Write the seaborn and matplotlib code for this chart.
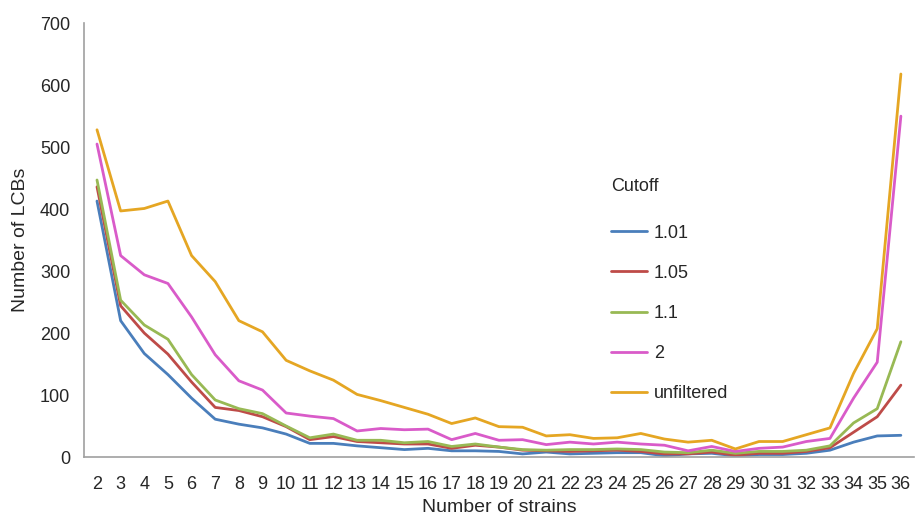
import numpy as np
import pandas as pd
import matplotlib
matplotlib.use("Agg")
import matplotlib.pyplot as plt
import seaborn as sns

strains = list(range(2, 37))
cutoffs = ["1.01", "1.05", "1.1", "2", "unfiltered"]

v_101 = [413, 220, 167, 133, 95, 61, 53, 47, 37, 22, 22, 18, 15, 12, 14, 10, 10, 9, 5, 8, 5, 6, 7, 7, 2, 5, 6, 2, 4, 4, 6, 11, 24, 34, 35]
v_105 = [436, 244, 200, 166, 121, 80, 75, 65, 49, 28, 33, 25, 23, 21, 21, 14, 19, 16, 11, 10, 9, 10, 11, 9, 5, 5, 8, 3, 6, 6, 9, 15, 40, 65, 116]
v_11 = [447, 253, 213, 190, 133, 92, 78, 70, 50, 31, 37, 27, 27, 23, 25, 17, 21, 16, 12, 11, 12, 12, 13, 12, 8, 7, 11, 6, 9, 9, 11, 18, 55, 78, 186]
v_2 = [505, 325, 294, 280, 226, 165, 123, 108, 71, 66, 62, 42, 46, 44, 45, 28, 38, 27, 28, 20, 24, 21, 24, 21, 19, 10, 17, 9, 14, 16, 25, 30, 95, 153, 550]
v_unf = [528, 397, 401, 413, 325, 283, 220, 202, 156, 139, 124, 101, 91, 80, 69, 54, 63, 49, 48, 34, 36, 30, 31, 38, 29, 24, 27, 13, 25, 25, 36, 47, 135, 207, 618]

colors = ["#4a7ebb", "#be4b48", "#98b954", "#d95bc9", "#e5a623"]

rows = []
for name, vals in zip(cutoffs, [v_101, v_105, v_11, v_2, v_unf]):
    for s, v in zip(strains, vals):
        rows.append({"strain": s, "count": v, "Cutoff": name})
df = pd.DataFrame(rows)

sns.set_style("white")
plt.rcParams["font.family"] = ["Liberation Sans", "DejaVu Sans"]

fig = plt.figure(figsize=(9.17, 5.15), dpi=100)
ax = fig.add_axes([0.0916, 0.1126, 0.905, 0.8424])

sns.lineplot(data=df, x="strain", y="count", hue="Cutoff", hue_order=cutoffs,
             palette=colors, linewidth=2.0, ax=ax)

ax.set_xlim(1.45, 36.55)
ax.set_ylim(0, 700)
ax.set_xticks(strains)
ax.set_xticklabels([str(s) for s in strains], fontsize=13)
ax.set_xticks(np.arange(1.5, 37, 1.0), minor=True)
ax.tick_params(axis="x", which="major", length=0, pad=14)
ax.tick_params(axis="x", which="minor", length=5, width=1, color="#a0a0a0", direction="out")
ax.set_yticks(range(0, 701, 100))
ax.tick_params(axis="y", labelsize=13, length=4, width=1, color="#a0a0a0", direction="out", pad=6)

for side in ["top", "right"]:
    ax.spines[side].set_visible(False)
for side in ["left", "bottom"]:
    ax.spines[side].set_color("#a0a0a0")
    ax.spines[side].set_linewidth(1.2)

ax.set_xlabel("Number of strains", fontsize=14, labelpad=4)
ax.set_ylabel("Number of LCBs", fontsize=14, labelpad=8)

leg = ax.legend(title="Cutoff", loc="upper left", bbox_to_anchor=(0.616, 0.68),
                frameon=False, fontsize=13, title_fontsize=13,
                labelspacing=1.28, handlelength=1.95, handletextpad=0.4)
leg._legend_box.align = "left"
leg._legend_box.sep = 1.28 * 13 + 4.5
leg._legend_handle_box.pad = 0
for hb in leg._legend_handle_box.get_children():
    pass

fig.savefig("out.png", dpi=100)
